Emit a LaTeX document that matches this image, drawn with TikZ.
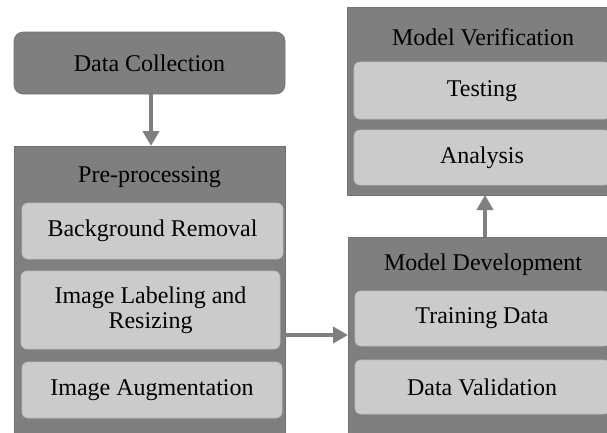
\documentclass[tikz,border=0pt]{standalone}
\usepackage{fontspec}
\setmainfont{Liberation Serif}
\usetikzlibrary{arrows.meta}
\definecolor{boxdark}{HTML}{7F7F7F}
\definecolor{boxlight}{HTML}{CBCBCB}
\tikzset{
  outerbox/.style={fill=boxdark, draw=boxdark!90!black, line width=0.6pt},
  innerbox/.style={fill=boxlight, draw=boxlight!92!black, line width=0.6pt, rounded corners=6pt},
  lbl/.style={font=\fontsize{24}{25}\selectfont, align=center, inner sep=0pt},
  flow/.style={draw=boxdark, line width=4pt, -{Triangle[length=15pt,width=16pt]}}
}
\begin{document}
\begin{tikzpicture}[x=1pt,y=-1pt]
\useasboundingbox (0,0) rectangle (607,432);
\clip (0,0) rectangle (607,432);
\fill[white] (0,0) rectangle (607,432);

% data collection
\draw[outerbox, rounded corners=9pt] (14,32) rectangle (285,94);
\node[lbl] (dc) at (149.5,63) {Data Collection};
\coordinate (dcS) at (151,94);

% pre-processing group
\draw[outerbox] (14,146) rectangle (285,445);
\coordinate (preN) at (151,146);
\coordinate (preE) at (285,335);
\node[lbl] (pre) at (149.5,177) {Pre-processing};
\draw[innerbox] (22,203) rectangle (283,259);
\node[lbl] (bg) at (152.5,231) {Background Removal};
\draw[innerbox] (21,271) rectangle (280,349);
\node[lbl] (lab) at (150.5,310) {Image Labeling and\\Resizing};
\draw[innerbox] (22,362) rectangle (282,418);
\node[lbl] (aug) at (152,390) {Image Augmentation};

% model verification group
\draw[outerbox] (347,7) rectangle (617,195);
\coordinate (mvS) at (485,195);
\node[lbl] (mv) at (483,37) {Model Verification};
\draw[innerbox] (354,62) rectangle (610,119);
\node[lbl] (test) at (482,91) {Testing};
\draw[innerbox] (354,130) rectangle (610,185);
\node[lbl] (ana) at (482,158) {Analysis};

% model development group
\draw[outerbox] (348,237) rectangle (617,445);
\coordinate (mdN) at (485,237);
\coordinate (mdW) at (348,335);
\node[lbl] (md) at (483,265) {Model Development};
\draw[innerbox] (355,291) rectangle (610,346);
\node[lbl] (train) at (482,318) {Training Data};
\draw[innerbox] (355,360) rectangle (610,414);
\node[lbl] (val) at (482,387) {Data Validation};

% flow arrows
\draw[flow] (dcS) -- (preN);
\draw[flow] (preE) -- (mdW);
\draw[flow] (mdN) -- (mvS);
\end{tikzpicture}
\end{document}
